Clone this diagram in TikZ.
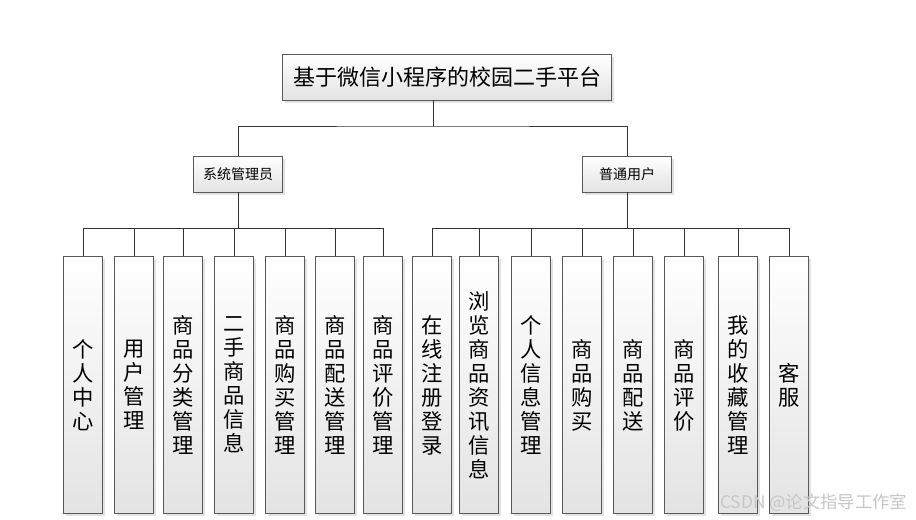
\documentclass[tikz,border=0pt]{standalone}
\usepackage{fontspec}
\newfontfamily\cjk{Noto Sans CJK SC}
\usetikzlibrary{positioning, shadows}

\begin{document}
\begin{tikzpicture}[x=0.75pt, y=-0.75pt,
		box/.style={rectangle, draw=black!65, line width=0.5pt, top color=white, bottom color=gray!22, drop shadow={shadow xshift=2pt, shadow yshift=-2pt, fill=gray!45}, inner sep=0pt, font=\cjk},
		rootbox/.style={box, minimum width=247pt, minimum height=34.5pt, font=\cjk\fontsize{16.5pt}{19pt}\selectfont},
		rolebox/.style={box, minimum width=67pt, minimum height=27pt, font=\cjk\fontsize{10.5pt}{12pt}\selectfont},
		leaf/.style={box, minimum width=29pt, minimum height=193pt, align=center, font=\cjk\fontsize{16pt}{18pt}\selectfont},
		link/.style={draw=black!80, line width=0.6pt},
		watermark/.style={font=\cjk\fontsize{13pt}{15pt}\selectfont, text=gray!45}
	]
	\useasboundingbox (0,0) rectangle (916,520);

	\node[rootbox] (root) at (447,77) {基于微信小程序的校园二手平台};
	\node[rolebox] (admin) at (238,174) {系统管理员};
	\node[rolebox] (user) at (627,174) {普通用户};

	\coordinate (mid) at (433,126);
	\coordinate (abar) at (238,228);
	\coordinate (ubar) at (627,228);

	% leaves of the admin
	\foreach \x/\t [count=\i] in {83/{个\\人\\中\\心}, 134/{用\\户\\管\\理}, 183/{商\\品\\分\\类\\管\\理}, 234/{二\\手\\商\\品\\信\\息}, 285/{商\\品\\购\\买\\管\\理}, 335/{商\\品\\配\\送\\管\\理}, 383/{商\\品\\评\\价\\管\\理}}
		\node[leaf] (a\i) at (\x,385) {\t};

	% leaves of the user
	\foreach \x/\t [count=\i] in {432/{在\\线\\注\\册\\登\\录}, 479/{浏\\览\\商\\品\\资\\讯\\信\\息}, 531/{个\\人\\信\\息\\管\\理}, 582/{商\\品\\购\\买}, 633/{商\\品\\配\\送}, 684/{商\\品\\评\\价}, 738/{我\\的\\收\\藏\\管\\理}, 789/{客\\服}}
		\node[leaf] (u\i) at (\x,385) {\t};

	\draw[link] (root.south -| mid) -- (mid);
	\draw[link] (admin.north) |- (mid) -| (user.north);
	\draw[link] (admin.south) -- (abar);
	\draw[link] (user.south) -- (ubar);

	\foreach \i in {1,...,7}
		\draw[link] (a\i.north) |- (abar);

	\foreach \i in {1,...,8}
		\draw[link] (u\i.north) |- (ubar);

	\node[watermark, anchor=east] (wm) at (912,503) {CSDN @论文指导工作室};

\end{tikzpicture}
\end{document}
